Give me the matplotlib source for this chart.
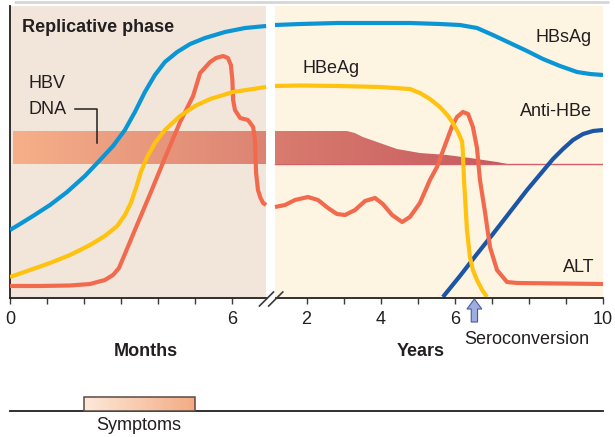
import numpy as np
import matplotlib
matplotlib.use("Agg")
import matplotlib.pyplot as plt
from matplotlib.patches import Polygon, Rectangle, FancyArrow
from matplotlib.lines import Line2D
from matplotlib.colors import to_rgb

plt.rcParams['font.family'] = ['Liberation Sans', 'DejaVu Sans']

# ---------------- data (left panel in months, right panel in years) ----------------
hbsag_left_m = [0.00, 0.27, 0.62, 1.08, 1.54, 2.02, 2.43, 2.78, 3.10, 3.37, 3.64, 3.91, 4.18, 4.51, 4.86, 5.26, 5.80, 6.34, 6.91]
hbsag_left_v = [68, 74, 82, 93, 106, 122, 138, 152, 168, 186, 206, 223, 236, 246, 254, 260, 266, 270, 272]
hbsag_right_y = [1.15, 1.83, 2.85, 3.98, 4.79, 5.60, 6.14, 6.60, 7.03, 7.49, 7.95, 8.38, 8.84, 9.30, 9.65, 10.0]
hbsag_right_v = [273, 274, 275, 275, 275, 274, 273, 270, 263, 255, 247, 239, 232, 226, 224, 223]

hbeag_left_m = [0.00, 0.54, 1.08, 1.62, 2.16, 2.56, 2.89, 3.10, 3.26, 3.40, 3.53, 3.70, 3.91, 4.18, 4.59, 4.99, 5.40, 6.02, 6.91]
hbeag_left_v = [21, 28, 35, 43, 53, 62, 72, 83, 95, 110, 126, 141, 155, 168, 182, 192, 199, 206, 211]
hbeag_right_y = [1.15, 1.83, 2.85, 3.98, 4.79, 5.06, 5.33, 5.60, 5.80, 5.95, 6.10, 6.20, 6.22, 6.25, 6.29, 6.33, 6.41, 6.49, 6.60, 6.74, 6.87]
hbeag_right_v = [212, 212.5, 212, 211, 209, 205, 199, 191, 183, 175, 165, 156, 145, 118, 93, 68, 41, 28, 18, 8, 1]

alt_left_m = [0.00, 0.81, 1.62, 2.16, 2.56, 2.78, 2.94, 3.10, 3.37, 3.78, 4.18, 4.59, 4.94, 5.13, 5.40, 5.56, 5.75, 5.88, 5.96,
              6.00, 6.02, 6.07, 6.21, 6.42, 6.56, 6.61, 6.64, 6.69, 6.76, 6.83, 6.91]
alt_left_v = [12, 12, 12.5, 14, 18, 23, 30, 44, 68, 104, 140, 176, 202, 225, 236, 240, 242, 240, 233,
              218, 198, 188, 180, 178, 171, 158, 125, 108, 100, 95, 93]
alt_right_y = [1.15, 1.42, 1.69, 2.04, 2.31, 2.58, 2.82, 3.04, 3.31, 3.58, 3.85, 4.06, 4.31, 4.58, 4.79, 5.06, 5.33, 5.52,
               5.79, 5.92, 6.06, 6.22, 6.36, 6.49, 6.60, 6.68, 6.82, 6.95, 7.14, 7.41, 7.68, 10.0]
alt_right_v = [91, 93, 98, 101, 98, 90, 84, 83, 88, 97, 100, 94, 83, 76, 81, 95, 118, 131,
               158, 171, 181, 186, 184, 171, 150, 118, 85, 51, 28, 16, 15, 14]

anti_hbe_y = [5.68, 6.14, 6.60, 7.03, 7.49, 7.95, 8.38, 8.65, 8.92, 9.19, 9.46, 9.73, 10.0]
anti_hbe_v = [1, 22, 44, 64, 86, 108, 127, 139, 149, 158, 164, 167, 168]

dna_left_m = [0.08, 6.91]
dna_left_top = [167.5, 167.5]
dna_right_y = [1.14, 3.09, 3.30, 3.52, 3.75, 3.98, 4.44, 5.06, 5.79, 6.41, 7.14, 7.49]
dna_right_top = [167, 167, 165, 161, 158, 155, 149, 145, 143, 140, 136, 133.5]
dna_base = 133.5
dna_line_end_y = 10.0

symptoms_m = [2.0, 5.0]
seroconversion_y = 6.53

month_ticks = [0, 1, 2, 3, 4, 5, 6]
month_labels = ['0', '', '', '', '', '', '6']
year_ticks = [2, 3, 4, 5, 6, 7, 8, 9, 10]
year_labels = ['2', '', '4', '', '6', '', '', '', '10']

# ---------------- styling ----------------
OFF = 6.0  # axis position of "year 0" (year 2 sits two ticks after month 6)
def yx(a):
    return np.asarray(a, dtype=float) + OFF

C_BLUE = '#0a96d6'
C_YEL = '#ffc20e'
C_ALT = '#f26a4e'
C_ANTI = '#1c55a5'
C_TXT = '#231f20'
BG_L = '#f2e6da'
BG_R = '#fdf4e1'
FS = 13
LW = 3.0

fig = plt.figure(figsize=(6.15, 4.37), dpi=100)
ax = fig.add_axes([10/615, 139/437, 593/615, 292/437])

L_END, R_START = 6.91, 7.15

def grad_img(c0, c1, n=256):
    g = np.linspace(0, 1, n)[:, None]
    return ((1-g)*np.array(to_rgb(c0)) + g*np.array(to_rgb(c1)))[None, :, :]

def gradient_fill(axis, xs, top, bottom, c0, c1, zorder):
    xs = np.asarray(xs, float); top = np.asarray(top, float)
    px = np.concatenate([xs, xs[::-1]])
    py = np.concatenate([top, np.full(len(xs), bottom)])
    patch = Polygon(np.column_stack([px, py]), closed=True, fc='none', ec='none')
    axis.add_patch(patch)
    im = axis.imshow(grad_img(c0, c1), extent=[xs[0], xs[-1], bottom, top.max()],
                     aspect='auto', zorder=zorder, interpolation='bilinear', origin='lower')
    im.set_clip_path(patch)

# backgrounds
ax.add_patch(Rectangle((0, 0), L_END, 292, fc=BG_L, ec='none', zorder=0))
ax.add_patch(Rectangle((R_START, 0), 16-R_START, 292, fc=BG_R, ec='none', zorder=0))

# HBV DNA band
ax.plot([yx(dna_right_y)[0], yx(dna_line_end_y)], [dna_base + 0.5, dna_base + 0.5], color='#d3606a', lw=1.0, zorder=1)
gradient_fill(ax, dna_left_m, dna_left_top, dna_base, '#f6b089', '#dc8373', 1.5)
gradient_fill(ax, yx(dna_right_y), dna_right_top, dna_base, '#d97b6e', '#c55a5f', 1.5)

# curves
kw = dict(lw=LW, solid_capstyle='butt', solid_joinstyle='round')
ax.plot(yx(anti_hbe_y), anti_hbe_v, color=C_ANTI, zorder=3, **kw)
ax.plot(alt_left_m, alt_left_v, color=C_ALT, zorder=4, **kw)
ax.plot(yx(alt_right_y), alt_right_v, color=C_ALT, zorder=4, **kw)
ax.plot(hbeag_left_m, hbeag_left_v, color=C_YEL, zorder=5, **kw)
ax.plot(yx(hbeag_right_y), hbeag_right_v, color=C_YEL, zorder=5, **kw)
ax.plot(hbsag_left_m, hbsag_left_v, color=C_BLUE, zorder=5, **kw)
ax.plot(yx(hbsag_right_y), hbsag_right_v, color=C_BLUE, zorder=5, **kw)

ax.set_xlim(0, 16)
ax.set_ylim(0, 292)

# axes styling
for s in ['top', 'right', 'bottom']:
    ax.spines[s].set_visible(False)
ax.spines['left'].set_color(C_TXT)
ax.spines['left'].set_linewidth(1.3)
ax.set_yticks([])
xt = list(month_ticks) + list(yx(year_ticks))
xl = list(month_labels) + list(year_labels)
ax.set_xticks(xt)
ax.set_xticklabels(xl, fontsize=FS, color=C_TXT)
ax.tick_params(axis='x', direction='out', length=4, width=1.0, color='#3a3a3a', pad=5)

# x axis line with break
ax.plot([0, L_END+0.02], [0, 0], color=C_TXT, lw=1.3, clip_on=False, zorder=6)
ax.plot([R_START+0.03, 16], [0, 0], color=C_TXT, lw=1.3, clip_on=False, zorder=6)
for x0 in (L_END - 0.18, L_END + 0.07):
    ax.plot([x0, x0 + 0.38], [-8, 6], color='#3a3a3a', lw=1.2, clip_on=False, zorder=7)

# texts
ax.text(0.32, 271, 'Replicative phase', fontsize=FS, fontweight='bold', color=C_TXT, va='center', ha='left')
ax.text(0.49, 215, 'HBV', fontsize=FS, color=C_TXT, va='center', ha='left')
ax.text(0.49, 189, 'DNA', fontsize=FS, color=C_TXT, va='center', ha='left')
ax.plot([1.75, 2.35, 2.35], [189, 189, 155], color=C_TXT, lw=1.1, zorder=6)
ax.text(7.88, 230, 'HBeAg', fontsize=FS, color=C_TXT, va='center', ha='left')
ax.text(15.70, 261, 'HBsAg', fontsize=FS, color=C_TXT, va='center', ha='right')
ax.text(15.70, 187, 'Anti-HBe', fontsize=FS, color=C_TXT, va='center', ha='right')
ax.text(15.76, 31, 'ALT', fontsize=FS, color=C_TXT, va='center', ha='right')

ax.text(3.67, -54, 'Months', fontsize=FS, fontweight='bold', color=C_TXT, va='center', ha='center')
ax.text(11.09, -54, 'Years', fontsize=FS, fontweight='bold', color=C_TXT, va='center', ha='center')
ax.text(13.95, -41, 'Seroconversion', fontsize=FS, color=C_TXT, va='center', ha='center')

arr = FancyArrow(yx(seroconversion_y), -24, 0, 23, width=0.17, head_width=0.40, head_length=10,
                 length_includes_head=True, fc='#9fadde', ec='#4a5a9c', lw=0.8, clip_on=False, zorder=7)
ax.add_patch(arr)

# symptoms timeline
ax2 = fig.add_axes([10/615, 22/437, 593/615, 25/437])
ax2.axis('off')
ax2.plot([0, 16], [4, 4], color=C_TXT, lw=1.3, clip_on=False)
gradient_fill(ax2, symptoms_m, [18, 18], 4, '#fde9da', '#f3ab82', 2)
ax2.add_patch(Rectangle((symptoms_m[0], 4), symptoms_m[1]-symptoms_m[0], 14, fc='none', ec='#5b4a44', lw=1.1, zorder=3))
ax2.set_xlim(0, 16)
ax2.set_ylim(0, 25)
ax2.text(3.48, -10, 'Symptoms', fontsize=FS, color=C_TXT, va='center', ha='center')

# top shadow line
fig.add_artist(Line2D([15/615, 608/615], [435/437, 435/437], color='#d6d6d6', lw=2.0, solid_capstyle='round'))

fig.savefig('out.png', dpi=100)
